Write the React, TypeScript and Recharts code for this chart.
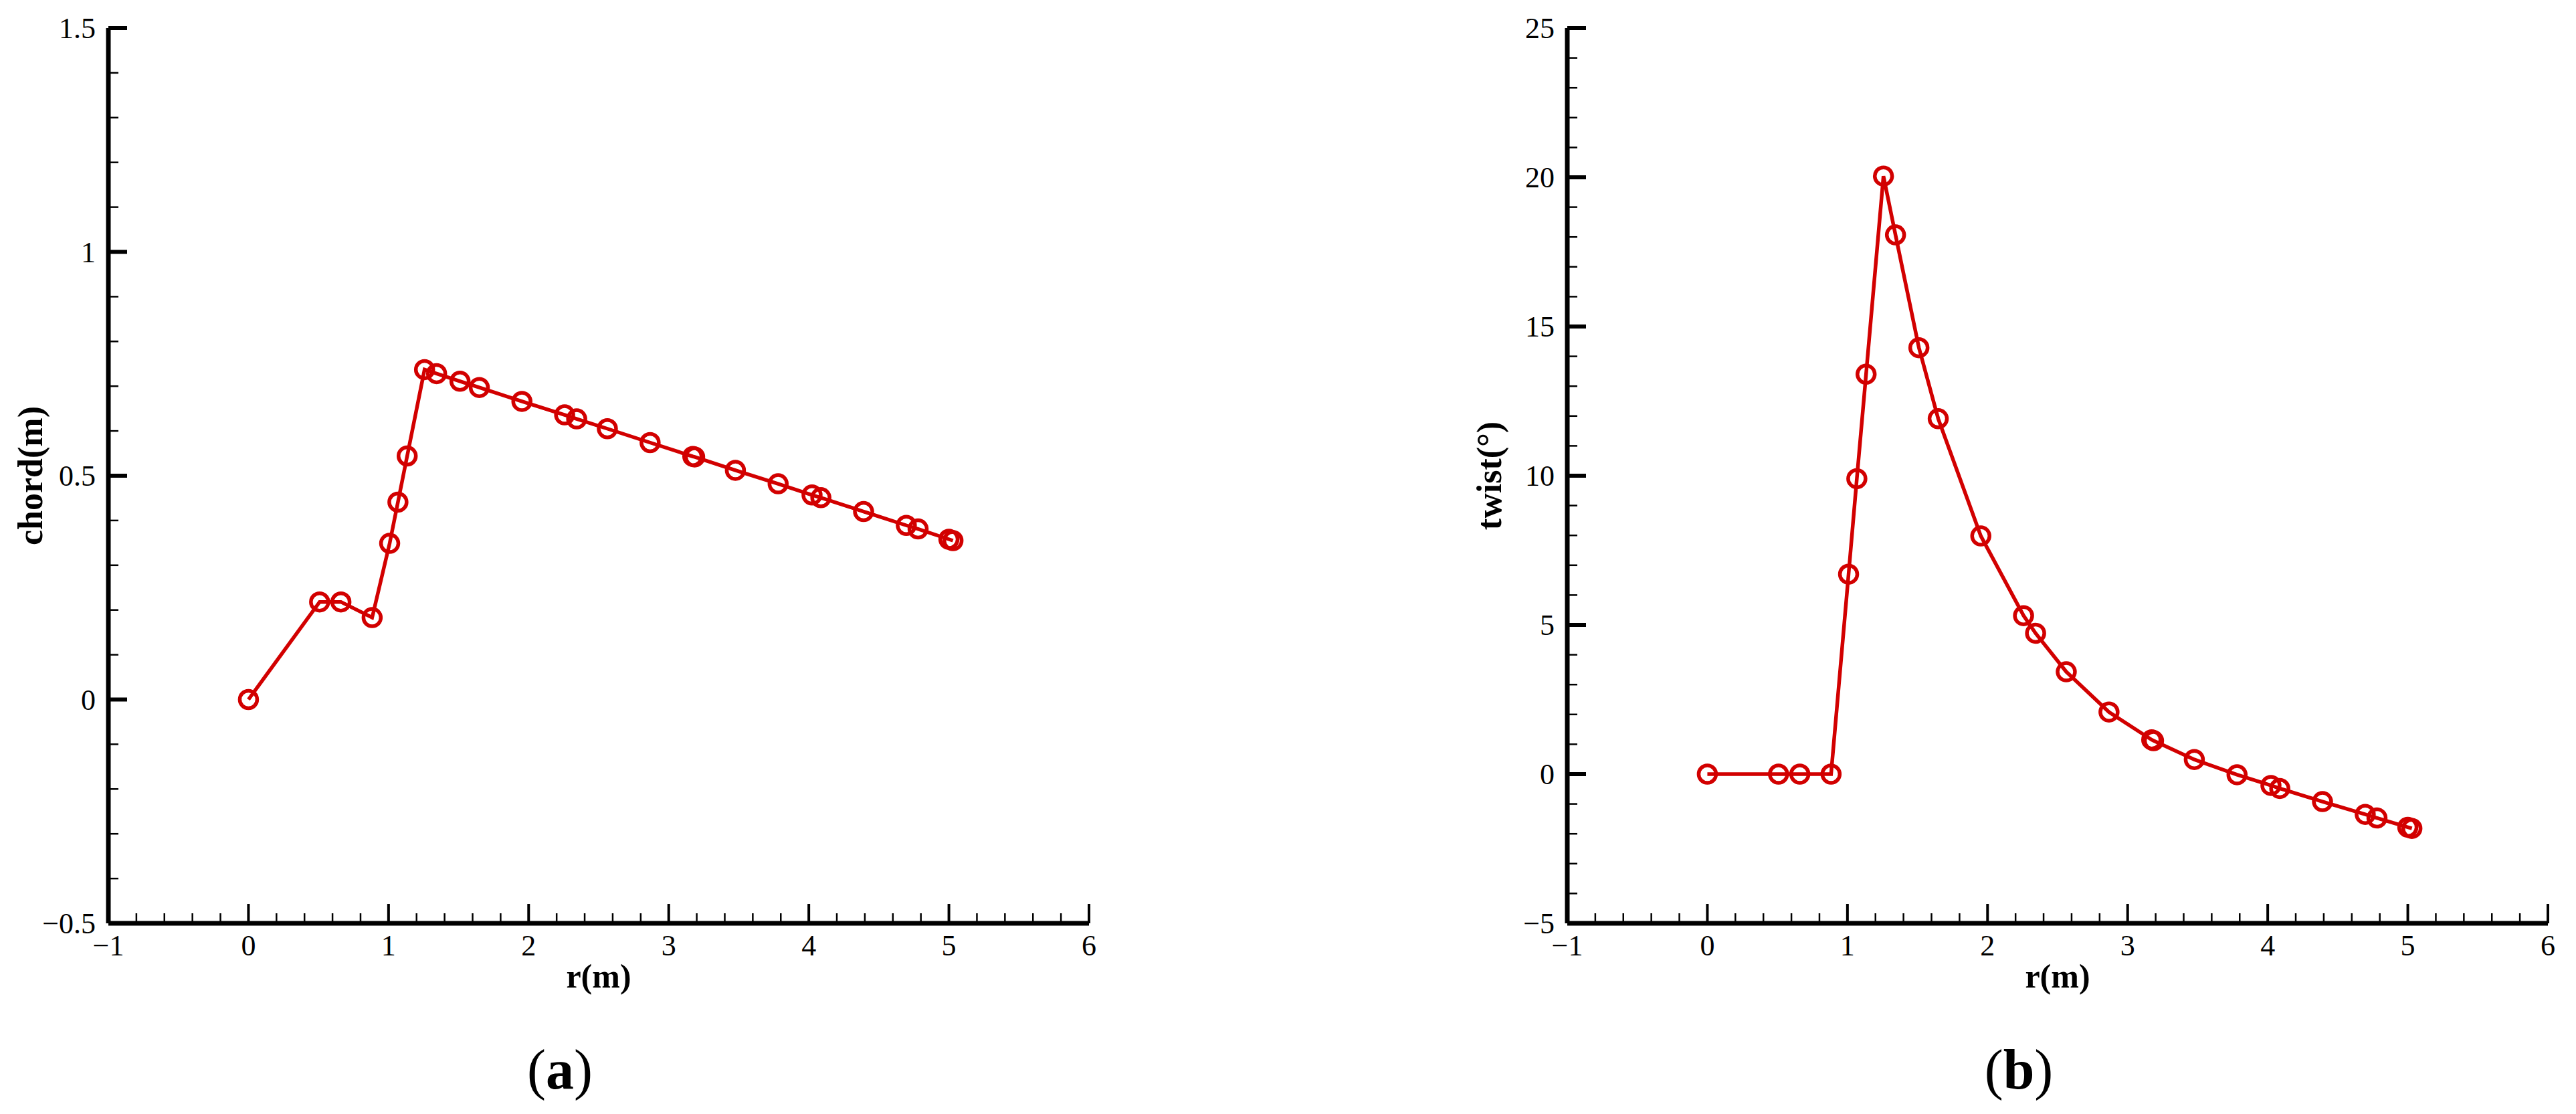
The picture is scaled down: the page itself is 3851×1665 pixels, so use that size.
import { Label, Line, LineChart, XAxis, YAxis } from "recharts";

// blade geometry
const radius = [
  0, 0.508, 0.66, 0.883, 1.008, 1.067, 1.133, 1.257, 1.343, 1.51, 1.648, 1.952, 2.257, 2.343, 2.562,
  2.867, 3.172, 3.185, 3.476, 3.781, 4.023, 4.086, 4.391, 4.696, 4.78, 5.0, 5.029,
];
const chord = [
  0, 0.218, 0.218, 0.183, 0.349, 0.441, 0.544, 0.737, 0.728, 0.711, 0.697, 0.666, 0.636, 0.627, 0.605,
  0.574, 0.543, 0.542, 0.512, 0.482, 0.457, 0.451, 0.42, 0.389, 0.381, 0.358, 0.355,
];
const twist = [
  0, 0, 0, 0, 6.7, 9.9, 13.4, 20.04, 18.07, 14.29, 11.91, 7.98, 5.31, 4.72, 3.43,
  2.08, 1.15, 1.12, 0.49, -0.02, -0.38, -0.48, -0.92, -1.35, -1.47, -1.78, -1.82,
];

const xMajor = [-1, 0, 1, 2, 3, 4, 5, 6];
const chordMajor = [-0.5, 0, 0.5, 1, 1.5];
const twistMajor = [-5, 0, 5, 10, 15, 20, 25];

const RED = "#d20000";
const FONT = '"Liberation Serif", "Times New Roman", serif';

const data = radius.map((r, i) => ({ r, chord: chord[i], twist: twist[i] }));

function withMinor(majors: number[], parts: number) {
  const out: number[] = [];
  for (let i = 0; i < majors.length - 1; i++) {
    const step = (majors[i + 1] - majors[i]) / parts;
    for (let k = 0; k < parts; k++) out.push(+(majors[i] + k * step).toFixed(6));
  }
  out.push(majors[majors.length - 1]);
  return out;
}

function fmt(v: number) {
  return v < 0 ? `\u2212${-v}` : `${v}`;
}

const isMajor = (majors: number[], v: number) => majors.some((m) => Math.abs(m - v) < 1e-6);

function XTick(props: any) {
  const { x, y, payload } = props;
  const major = isMajor(xMajor, payload.value);
  return (
    <g>
      <line x1={x} x2={x} y1={y} y2={y - (major ? 29 : 15)} stroke="#000" strokeWidth={major ? 4 : 2.5} />
      {major && (
        <text x={x} y={y + 48} textAnchor="middle" fontFamily={FONT} fontSize={44} fill="#000">
          {fmt(payload.value)}
        </text>
      )}
    </g>
  );
}

function makeYTick(majors: number[]) {
  return function YTick(props: any) {
    const { x, y, payload } = props;
    const major = isMajor(majors, payload.value);
    return (
      <g>
        <line x1={x} x2={x + (major ? 28 : 15)} y1={y} y2={y} stroke="#000" strokeWidth={major ? 6 : 2.5} />
        {major && (
          <text x={x - 19} y={y + 15} textAnchor="end" fontFamily={FONT} fontSize={44} fill="#000">
            {fmt(payload.value)}
          </text>
        )}
      </g>
    );
  };
}

type PanelProps = {
  left: number;
  width: number;
  axisWidth: number;
  dataKey: string;
  yMajor: number[];
  yLabel: string;
  titleX: number;
  caption: string;
};

// both plot areas are 1466px wide
const PLOT_W = 1466;

function Panel({ left, width, axisWidth, dataKey, yMajor, yLabel, titleX, caption }: PanelProps) {
  return (
    <div style={{ position: "absolute", left, top: 0, width, height: 1665 }}>
      <LineChart
        width={width}
        height={1544}
        data={data}
        margin={{ top: 42, right: width - axisWidth - PLOT_W, bottom: 0, left: 0 }}
      >
        <XAxis
          dataKey="r"
          type="number"
          domain={[-1, 6]}
          ticks={withMinor(xMajor, 5)}
          interval={0}
          height={164}
          tickSize={0}
          tickMargin={0}
          tickLine={false}
          axisLine={{ stroke: "#000", strokeWidth: 7 }}
          tick={<XTick />}
        >
          <Label
            content={(p: any) => (
              <text
                x={p.viewBox.x + p.viewBox.width / 2}
                y={p.viewBox.y + 96}
                textAnchor="middle"
                fontFamily={FONT}
                fontSize={50}
                fontWeight="bold"
              >
                r(m)
              </text>
            )}
          />
        </XAxis>
        <YAxis
          type="number"
          domain={[yMajor[0], yMajor[yMajor.length - 1]]}
          ticks={withMinor(yMajor, 5)}
          interval={0}
          width={axisWidth}
          tickSize={0}
          tickMargin={0}
          tickLine={false}
          axisLine={{ stroke: "#000", strokeWidth: 7 }}
          tick={makeYTick(yMajor)}
        >
          <Label
            content={(p: any) => {
              const cy = p.viewBox.y + p.viewBox.height / 2;
              return (
                <text
                  x={titleX}
                  y={cy}
                  transform={`rotate(-90 ${titleX} ${cy})`}
                  textAnchor="middle"
                  fontFamily={FONT}
                  fontSize={52}
                  fontWeight="bold"
                >
                  {yLabel}
                </text>
              );
            }}
          />
        </YAxis>
        <Line
          type="linear"
          dataKey={dataKey}
          stroke={RED}
          strokeWidth={5.5}
          dot={{ r: 13, stroke: RED, strokeWidth: 5.5, fill: "none" }}
          isAnimationActive={false}
        />
      </LineChart>
      <svg width={300} height={125} style={{ position: "absolute", left: axisWidth + 675 - 150, top: 1540 }}>
        <text x={150} y={87} textAnchor="middle" fontFamily={FONT} fontSize={84}>
          <tspan>(</tspan>
          <tspan fontWeight="bold">{caption}</tspan>
          <tspan>)</tspan>
        </text>
      </svg>
    </div>
  );
}

export default function App() {
  return (
    <div style={{ position: "absolute", left: 0, top: 0, width: 3851, height: 1665, background: "#fff" }}>
      <Panel
        left={0}
        width={1700}
        axisWidth={162}
        dataKey="chord"
        yMajor={chordMajor}
        yLabel="chord(m)"
        titleX={63}
        caption="a"
      />
      <Panel
        left={2200}
        width={1651}
        axisWidth={143}
        dataKey="twist"
        yMajor={twistMajor}
        yLabel="twist(°)"
        titleX={44}
        caption="b"
      />
    </div>
  );
}
